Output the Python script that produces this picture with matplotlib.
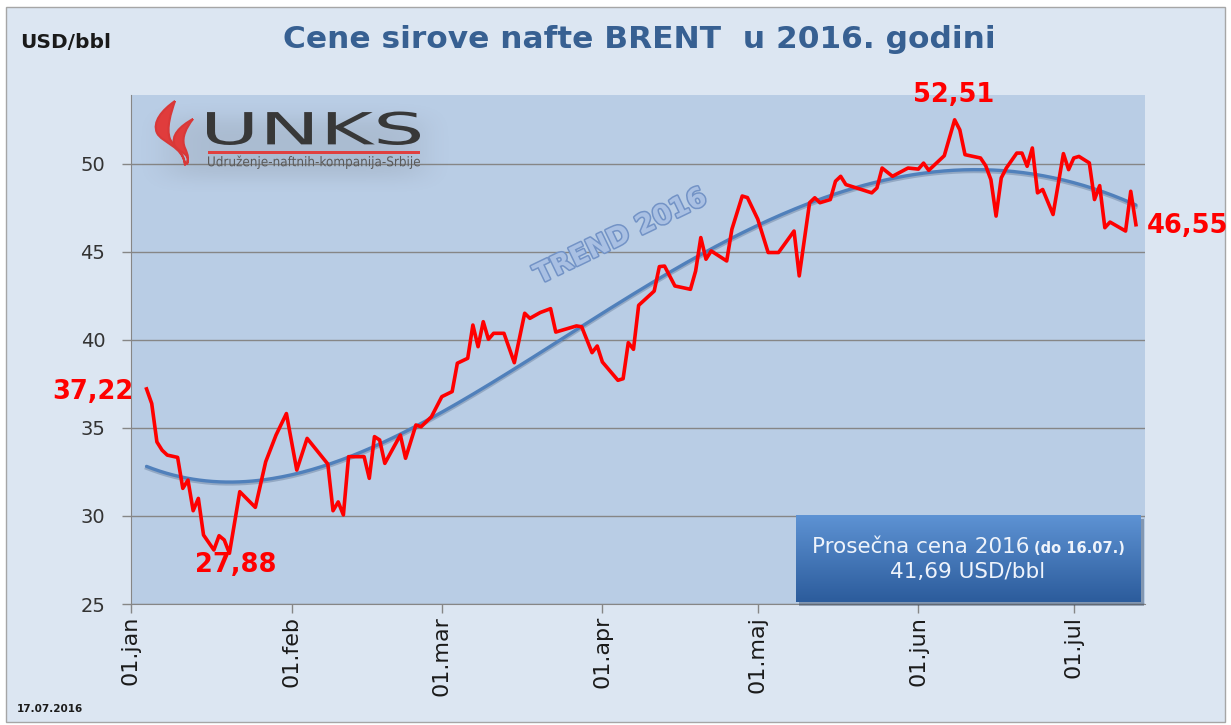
import numpy as np
import matplotlib
matplotlib.use("Agg")
import matplotlib.pyplot as plt
import matplotlib.dates as mdates
import matplotlib.patheffects as pe
import matplotlib.transforms as mtransforms
from matplotlib.patches import Rectangle, PathPatch
from matplotlib.path import Path
from matplotlib.textpath import TextPath
from matplotlib.font_manager import FontProperties

W, H = 1231, 725

# Brent daily prices (USD/bbl)
dates = [
    "2016-01-04", "2016-01-05", "2016-01-06", "2016-01-07", "2016-01-08", "2016-01-10",
    "2016-01-11", "2016-01-12", "2016-01-13", "2016-01-14", "2016-01-15", "2016-01-17",
    "2016-01-18", "2016-01-19", "2016-01-20", "2016-01-22", "2016-01-25", "2016-01-27",
    "2016-01-29", "2016-01-31", "2016-02-02", "2016-02-04", "2016-02-08", "2016-02-09",
    "2016-02-10", "2016-02-11", "2016-02-12", "2016-02-15", "2016-02-16", "2016-02-17",
    "2016-02-18", "2016-02-19", "2016-02-22", "2016-02-23", "2016-02-25", "2016-02-26",
    "2016-02-28", "2016-03-01", "2016-03-03", "2016-03-04", "2016-03-06", "2016-03-07",
    "2016-03-08", "2016-03-09", "2016-03-10", "2016-03-11", "2016-03-13", "2016-03-15",
    "2016-03-17", "2016-03-18", "2016-03-20", "2016-03-22", "2016-03-23", "2016-03-27",
    "2016-03-28", "2016-03-30", "2016-03-31", "2016-04-01", "2016-04-04", "2016-04-05",
    "2016-04-06", "2016-04-07", "2016-04-08", "2016-04-11", "2016-04-12", "2016-04-13",
    "2016-04-15", "2016-04-18", "2016-04-19", "2016-04-20", "2016-04-21", "2016-04-22",
    "2016-04-25", "2016-04-26", "2016-04-28", "2016-04-29", "2016-05-01", "2016-05-03",
    "2016-05-05", "2016-05-08", "2016-05-09", "2016-05-11", "2016-05-12", "2016-05-13",
    "2016-05-15", "2016-05-16", "2016-05-17", "2016-05-18", "2016-05-21", "2016-05-23",
    "2016-05-24", "2016-05-25", "2016-05-27", "2016-05-30", "2016-06-01", "2016-06-02",
    "2016-06-03", "2016-06-06", "2016-06-08", "2016-06-09", "2016-06-10", "2016-06-13",
    "2016-06-14", "2016-06-15", "2016-06-16", "2016-06-17", "2016-06-18", "2016-06-20",
    "2016-06-21", "2016-06-22", "2016-06-23", "2016-06-24", "2016-06-25", "2016-06-27",
    "2016-06-29", "2016-06-30", "2016-07-01", "2016-07-02", "2016-07-04", "2016-07-05",
    "2016-07-06", "2016-07-07", "2016-07-08", "2016-07-11", "2016-07-12", "2016-07-13",
]
prices = [
    37.22, 36.39, 34.21, 33.74, 33.46, 33.33,
    31.57, 32.04, 30.30, 31.00, 28.92, 28.07,
    28.88, 28.64, 27.88, 31.38, 30.49, 33.08,
    34.60, 35.82, 32.61, 34.41, 32.95, 30.30,
    30.80, 30.06, 33.37, 33.37, 32.14, 34.51,
    34.32, 32.99, 34.60, 33.28, 35.17, 35.07,
    35.64, 36.78, 37.07, 38.68, 38.96, 40.85,
    39.62, 41.04, 40.04, 40.38, 40.38, 38.71,
    41.52, 41.23, 41.56, 41.78, 40.45, 40.80,
    40.75, 39.28, 39.66, 38.75, 37.71, 37.80,
    39.85, 39.47, 41.97, 42.78, 44.17, 44.20,
    43.07, 42.88, 43.92, 45.82, 44.59, 45.06,
    44.49, 46.29, 48.18, 48.09, 46.86, 44.97,
    44.97, 46.19, 43.64, 47.80, 48.08, 47.80,
    47.98, 49.02, 49.30, 48.83, 48.55, 48.36,
    48.64, 49.77, 49.30, 49.77, 49.71, 50.05,
    49.64, 50.47, 52.51, 51.94, 50.53, 50.34,
    49.90, 49.11, 47.04, 49.21, 49.78, 50.62,
    50.62, 49.87, 50.91, 48.36, 48.55, 47.13,
    50.59, 49.68, 50.34, 50.43, 50.06, 47.98,
    48.77, 46.38, 46.70, 46.19, 48.45, 46.55,
]

month_ticks = ["2016-01-01", "2016-02-01", "2016-03-01", "2016-04-01",
               "2016-05-01", "2016-06-01", "2016-07-01"]
month_labels = ["01.jan", "01.feb", "01.mar", "01.apr", "01.maj", "01.jun", "01.jul"]
y_ticks = [25, 30, 35, 40, 45, 50]

# labelled points: first, minimum, maximum, last
marked_dates = ["2016-01-04", "2016-01-20", "2016-06-08", "2016-07-13"]
marked_texts = ["37,22", "27,88", "52,51", "46,55"]

avg_text = "41,69 USD/bbl"
avg_period = "(do 16.07.)"

x = mdates.date2num(np.array(dates, dtype="datetime64[D]"))
y = np.array(prices)

# polynomial trend line, like the spreadsheet trendline
x0 = x[0]
coef = np.polyfit(x - x0, y, 4)
xt = np.linspace(x[0], x[-1], 300)
yt = np.polyval(coef, xt - x0)

fig = plt.figure(figsize=(W / 100, H / 100), dpi=100)
fig.patch.set_facecolor("white")
px = mtransforms.Affine2D().scale(1 / W, -1 / H).translate(0, 1) + fig.transFigure

fig.add_artist(Rectangle((6, 7), 1219, 715, transform=px, facecolor="#dce6f2",
                         edgecolor="#a6a6a6", lw=1, zorder=-10))

ax = fig.add_axes([131 / W, 1 - 604 / H, (1145 - 131) / W, (604 - 95) / H])
ax.set_facecolor("#b9cde5")

ax.plot(xt, yt - 0.1, color="#3d5577", lw=2.6, alpha=0.3, zorder=2)
ax.plot(xt, yt, color="#5080bb", lw=2.4, zorder=2, solid_capstyle="round")
ax.plot(x, y, color="#ff0000", lw=2.6, zorder=3, solid_joinstyle="round")

start = mdates.date2num(np.datetime64("2016-01-01"))
ax.set_xlim(start, start + 195.75)
ax.set_ylim(25, 53.92)
ax.set_xticks(mdates.date2num(np.array(month_ticks, dtype="datetime64[D]")))
ax.set_xticklabels(month_labels, rotation=90)
ax.set_yticks(y_ticks)
ax.tick_params(axis="x", length=6.5, width=1, color="#868686", pad=2,
               labelsize=16, labelcolor="#1a1a1a")
ax.tick_params(axis="y", length=6.5, width=1, color="#868686", pad=12,
               labelsize=14, labelcolor="#333333")
ax.yaxis.grid(True, color="#868686", lw=1)
ax.set_axisbelow(True)
for side in ["top", "right"]:
    ax.spines[side].set_visible(False)
for side in ["left", "bottom"]:
    ax.spines[side].set_color("#868686")

# value labels
offsets = [(-54, -3), (6, -12), (-1, 25), (52, -1)]
for d, t, off in zip(marked_dates, marked_texts, offsets):
    i = dates.index(d)
    ax.annotate(t, (x[i], y[i]), xytext=off, textcoords="offset pixels",
                ha="center", va="center", fontsize=18.5, fontweight="bold",
                color="#ff0000", annotation_clip=False, zorder=5)

# TREND 2016 watermark
fig.text(621, 237, "TREND 2016", transform=px, rotation=25.7, ha="center", va="center",
         fontsize=19.5, fontweight="bold", color="#a9c0e3", zorder=6,
         path_effects=[pe.withStroke(linewidth=2.2, foreground="#7393c6")])

# titles
fig.text(639, 40, "Cene sirove nafte BRENT  u 2016. godini", transform=px, ha="center",
         va="center", fontsize=22.5, fontweight="bold", color="#376092")
fig.text(20, 42, "USD/bbl", transform=px, ha="left", va="center", fontsize=14.5,
         fontweight="bold", color="#1a1a1a")
fig.text(17, 709, "17.07.2016", transform=px, ha="left", va="center", fontsize=7.5,
         fontweight="bold", color="#1a1a1a")

# logo with soft shadow
sh = fig.add_axes([140 / W, 1 - 200 / H, 310 / W, 110 / H], zorder=1)
gx = np.linspace(-1, 1, 310)
gy = np.linspace(-1, 1, 110)
ax_, ay_ = np.meshgrid(gx, gy)
alpha = np.exp(-(np.abs(ax_ / 0.85) ** 8) - ((ay_ - 0.05) / 0.6) ** 4) * 0.13
img = np.zeros((110, 310, 4))
img[..., :3] = 0.3
img[..., 3] = alpha
sh.imshow(img, extent=(0, 1, 0, 1), aspect="auto")
sh.axis("off")


def text_in_box(s, x0, y0, x1, y1, color):
    tp = TextPath((0, 0), s, size=1, prop=FontProperties(family="DejaVu Sans"))
    ext = tp.get_extents()
    tr = (mtransforms.Affine2D().translate(-ext.x0, -ext.y0)
          .scale((x1 - x0) / ext.width, -(y1 - y0) / ext.height).translate(x0, y1))
    fig.add_artist(PathPatch(tr.transform_path(tp), transform=px, facecolor=color,
                             edgecolor="none", zorder=7))


text_in_box("UNKS", 207, 111.5, 420, 145, "#383838")
fig.add_artist(Rectangle((208, 150.5), 212, 3, transform=px, facecolor="#e0403f",
                         edgecolor="none", zorder=7))
text_in_box("Udruženje-naftnih-kompanija-Srbije", 208, 155.5, 420, 169, "#5a5a5a")

C = Path.CURVE4
flame_left = Path([(175, 101), (162, 110), (152, 122), (157, 133),
                   (162, 143), (183, 146), (185, 165),
                   (184, 151), (174, 147), (170, 139),
                   (166, 128), (171, 113), (175, 101)],
                  [Path.MOVETO, C, C, C, C, C, C, C, C, C, C, C, C])
flame_right = Path([(193, 119), (180, 126), (170, 136), (175, 146),
                    (179, 153), (191, 153), (187, 164),
                    (190, 155), (185, 150), (184, 145),
                    (182, 137), (186, 128), (193, 119)],
                   [Path.MOVETO, C, C, C, C, C, C, C, C, C, C, C, C])
for p in (flame_left, flame_right):
    fig.add_artist(PathPatch(p, transform=px, facecolor="#e03c3c", edgecolor="#d83838",
                             lw=1.5, joinstyle="round", zorder=7))

# average price box
shadow = Rectangle((799, 519), 345, 87, transform=px, facecolor="#1f3350",
                   alpha=0.35, edgecolor="none", zorder=8)
fig.add_artist(shadow)
bax = fig.add_axes([796 / W, 1 - 602 / H, 345 / W, 87 / H], zorder=9)
top = np.array([0x5e, 0x93, 0xd4]) / 255
bot = np.array([0x2c, 0x5c, 0x9c]) / 255
t = np.linspace(0, 1, 100)[:, None]
grad = (top * (1 - t) + bot * t)[:, None, :]
bax.imshow(grad, extent=(0, 1, 0, 1), aspect="auto")
bax.axis("off")
fig.text(1029, 553, "Prosečna cena 2016", transform=px, ha="right", va="baseline",
         fontsize=15.5, color="#eef3fb", zorder=10)
fig.text(1034, 553, avg_period, transform=px, ha="left", va="baseline",
         fontsize=10.5, fontweight="bold", color="#eef3fb", zorder=10)
fig.text(968, 572, avg_text, transform=px, ha="center", va="center",
         fontsize=15.5, color="#eef3fb", zorder=10)

fig.savefig("out.png", dpi=100)
